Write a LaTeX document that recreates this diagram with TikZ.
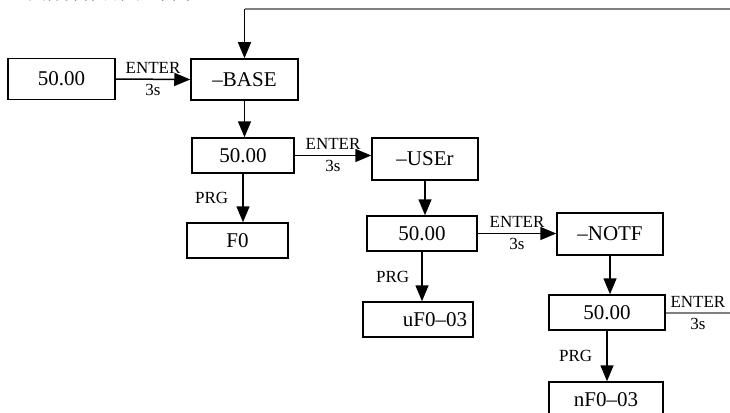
\documentclass[tikz,border=0pt]{standalone}
\usepackage{fontspec}
\setmainfont{Liberation Serif}
\newfontfamily\cjk{Noto Sans CJK SC}
\usetikzlibrary{arrows.meta}
\begin{document}
\begin{tikzpicture}[x=1pt,y=-1pt,
  box/.style={draw,line width=1.5pt,inner sep=0pt,font=\fontsize{21}{23}\selectfont},
  lab/.style={inner sep=0pt,text=black,font=\fontsize{17}{19}\selectfont},
  arr/.style={line width=1.5pt,-{Triangle[length=16pt,width=13pt]}},
  feed/.style={line width=2pt,color=gray}]
\useasboundingbox (0,0) rectangle (730,412);
\node[anchor=base west,inner sep=0pt,font=\cjk\fontsize{18}{20}\selectfont] (title) at (0,-0.5) {3、具体操作流程如下图};
% boxes
\node[box,minimum width=107pt,minimum height=41pt] (a) at (61.5,79) {50.00};
\node[box,minimum width=107pt,minimum height=41pt] (base) at (244.5,79.5) {--BASE};
\node[box,minimum width=102pt,minimum height=35pt] (c) at (243,155.5) {50.00};
\node[box,minimum width=106pt,minimum height=42pt] (user) at (425,159) {--USEr};
\node[box,minimum width=101pt,minimum height=35pt] (f0) at (237.5,240.5) {F0};
\node[box,minimum width=110pt,minimum height=35pt] (d) at (422,233.5) {50.00};
\node[box,minimum width=106pt,minimum height=42pt] (notf) at (610,234) {--NOTF};
\node[box,minimum width=110pt,minimum height=35pt] (uf) at (418,319.5) {\hspace*{34pt}uF0--03};
\node[box,minimum width=116pt,minimum height=35pt] (e) at (607,312.5) {50.00};
\node[box,minimum width=114pt,minimum height=35pt] (nf) at (606,399.5) {nF0--03};
\coordinate (top) at (730,9);
\coordinate (out) at (730,313);
% feedback
\draw[feed] (top) -- (base.north |- top);
\draw[arr] (base.north |- top) -- (base.north);
% ENTER 3s
\draw[arr] (a.east) -- (base.west) node[lab,midway,above=5pt] {ENTER} node[lab,midway,below=4pt] {3s};
\draw[arr] (c.east) -- (c.east -| user.west) node[lab,midway,above=5pt] {ENTER} node[lab,midway,below=4pt] {3s};
\draw[arr] (d.east) -- (d.east -| notf.west) node[lab,midway,above=5pt] {ENTER} node[lab,midway,below=4pt] {3s};
\draw[feed,line width=1.5pt] (e.east |- out) -- (out) node[lab,midway,above=5pt] {ENTER} node[lab,midway,below=4pt] {3s};
% down
\draw[arr] (base.south) -- (base.south |- c.north);
\draw[arr] (user.south) -- (user.south |- d.north);
\draw[arr] (notf.south) -- (notf.south |- e.north);
% PRG
\draw[arr] (c.south) -- (c.south |- f0.north) node[lab,midway,left=14pt] {PRG};
\draw[arr] (d.south) -- (d.south |- uf.north) node[lab,midway,left=12pt] {PRG};
\draw[arr] (e.south) -- (e.south |- nf.north) node[lab,midway,left=14pt] {PRG};
\end{tikzpicture}
\end{document}
